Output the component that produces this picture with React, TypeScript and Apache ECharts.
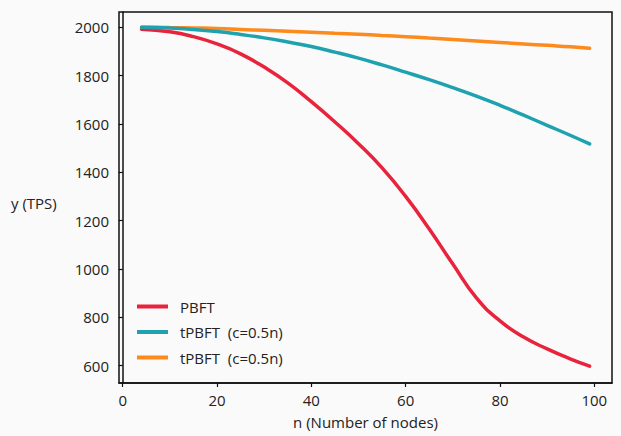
import React, { useEffect, useRef } from "react";
import * as echarts from "echarts";

const nodes = [4, 10, 15, 20, 25, 30, 35, 40, 45, 50, 55, 60, 65, 70, 75, 80, 85, 90, 95, 99];
const pbft = [1992, 1981, 1961, 1931, 1890, 1835, 1770, 1692, 1608, 1518, 1418, 1300, 1165, 1020, 880, 785, 718, 669, 627, 598];
const tpbftTeal = [2000, 1997, 1991, 1982, 1970, 1956, 1939, 1920, 1897, 1872, 1844, 1814, 1783, 1750, 1715, 1677, 1636, 1594, 1552, 1517];
const tpbftOrange = [2000, 1999, 1997, 1995, 1991, 1987, 1983, 1979, 1975, 1971, 1966, 1961, 1955, 1949, 1943, 1937, 1931, 1925, 1919, 1913];
const xTicks = [0, 20, 40, 60, 80, 100];
const yTicks = [600, 800, 1000, 1200, 1400, 1600, 1800, 2000];
const names = ["PBFT", "tPBFT  (c=0.5n)", "tPBFT  (c=0.5n) "];

const FONT = "'Open Sans', 'Noto Sans', sans-serif";

export default function App() {
  const ref = useRef<HTMLDivElement>(null);
  useEffect(() => {
    if (!ref.current) return;
    const chart = echarts.init(ref.current, undefined, { renderer: "svg" });
    const pair = (ys: number[]) => nodes.map((n, i) => [n, ys[i]]);
    chart.setOption({
      animation: false,
      backgroundColor: "#fafafa",
      textStyle: { fontFamily: FONT },
      grid: {
        left: 119,
        top: 12,
        right: 9,
        bottom: 53,
        show: true,
        borderColor: "#111",
        borderWidth: 1.5,
        backgroundColor: "transparent",
      },
      legend: {
        left: 132,
        top: 294,
        orient: "vertical",
        icon: "rect",
        itemWidth: 31,
        itemHeight: 4,
        itemGap: 10.5,
        data: [names[0], names[1], names[2]],
        textStyle: { fontSize: 15, color: "#222", fontFamily: FONT, padding: [0, 0, 0, 7] },
      },
      xAxis: {
        type: "value",
        min: -0.78,
        max: 103.75,
        name: "n (Number of nodes)",
        nameLocation: "middle",
        nameGap: 31,
        nameTextStyle: { fontSize: 15, color: "#222", fontFamily: FONT },
        splitLine: { show: false },
        axisLine: { show: true, lineStyle: { color: "#111", width: 1.5 } },
        axisTick: { show: true, customValues: xTicks, length: 4, lineStyle: { color: "#111", width: 1.2 } },
        axisLabel: { customValues: xTicks, margin: 9, fontSize: 15, color: "#222", fontFamily: FONT, formatter: (v: number) => String(v) },
      },
      yAxis: {
        type: "value",
        min: 528,
        max: 2063,
        splitLine: { show: false },
        axisLine: { show: true, lineStyle: { color: "#111", width: 1.5 } },
        axisTick: { show: true, customValues: yTicks, length: 4, lineStyle: { color: "#111", width: 1.2 } },
        axisLabel: { customValues: yTicks, margin: 10, fontSize: 15, color: "#222", fontFamily: FONT, formatter: (v: number) => String(v) },
      },
      graphic: [
        {
          type: "text",
          left: 11,
          top: 195,
          style: { text: "y (TPS)", fontSize: 15, fill: "#222", fontFamily: FONT },
        },
      ],
      series: [
        {
          name: names[0],
          type: "line",
          data: pair(pbft),
          smooth: 0.5,
          showSymbol: false,
          symbol: "none",
          lineStyle: { color: "#e8233b", width: 3.5, cap: "round" },
          itemStyle: { color: "#e8233b" },
        },
        {
          name: names[2],
          type: "line",
          data: pair(tpbftOrange),
          smooth: 0.5,
          showSymbol: false,
          symbol: "none",
          lineStyle: { color: "#fd8a1c", width: 3.5, cap: "round" },
          itemStyle: { color: "#fd8a1c" },
        },
        {
          name: names[1],
          type: "line",
          data: pair(tpbftTeal),
          smooth: 0.5,
          showSymbol: false,
          symbol: "none",
          lineStyle: { color: "#1ea2af", width: 3.5, cap: "round" },
          itemStyle: { color: "#1ea2af" },
        },
      ],
    });
    return () => chart.dispose();
  }, []);
  return <div ref={ref} style={{ position: "fixed", left: 0, top: 0, width: 621, height: 436 }} />;
}
